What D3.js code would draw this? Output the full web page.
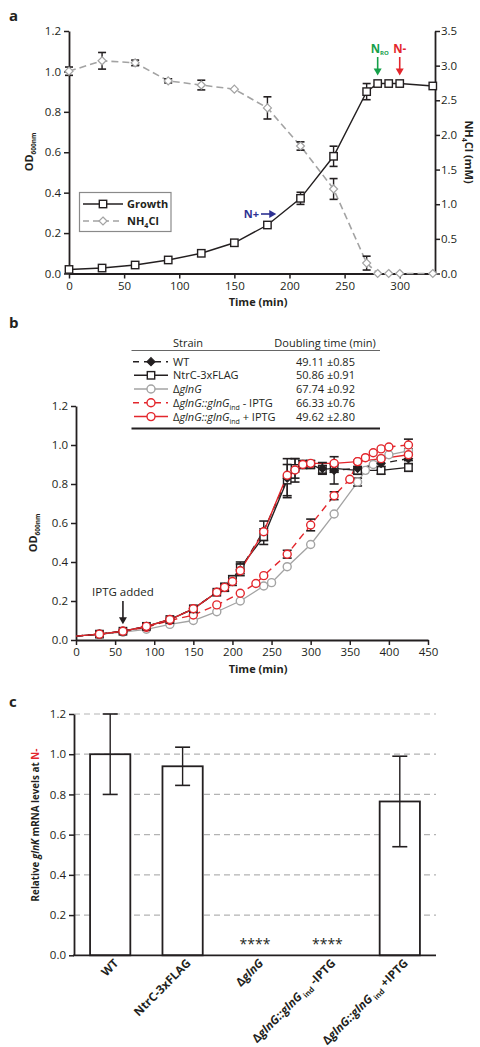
<!DOCTYPE html>
<html><head><meta charset="utf-8">
<script src="https://cdn.jsdelivr.net/npm/d3@7"></script>
<style>body{margin:0;background:#fff} svg{display:block} text{font-family:"Open Sans",sans-serif;fill:#231f20}</style>
</head><body><svg id="c" width="480" height="1047"></svg>
<script>
// ---------- Panel a data ----------
const timeA = [0,30,60,90,120,150,180,210,240,270,280,290,300,330];
const growthOD = [0.02,0.027,0.042,0.067,0.10,0.152,0.24,0.372,0.58,0.90,0.94,0.94,0.94,0.928];
const growthErr = [0,0,0,0,0,0,0,0.03,0.05,0.04,0,0,0,0];
const nh4Conc = [2.92,3.07,3.04,2.78,2.72,2.66,2.39,1.84,1.22,0.15,0,0,0,0];
const nh4Err = [0.06,0.12,0.04,0.03,0.07,0,0.16,0.06,0.15,0.10,0,0,0,0];
const ticksAx = [0,50,100,150,200,250,300];
const ticksAyL = [0,0.2,0.4,0.6,0.8,1.0,1.2];
const ticksAyR = [0,0.5,1.0,1.5,2.0,2.5,3.0,3.5];

// ---------- Panel b data ----------
const timeWT = [0,30,60,90,120,150,180,190,200,210,240,270,280,290,300,315,330,360,390,425];
const odWT   = [0.02,0.03,0.045,0.07,0.105,0.16,0.245,0.27,0.30,0.36,0.56,0.83,0.87,0.90,0.90,0.88,0.87,0.88,0.905,0.93];
const errWT  = [0,0,0,0,0,0,0,0.02,0.02,0.03,0.05,0.10,0.06,0.02,0.02,0.03,0.07,0.03,0.03,0.03];
const odNtrC = [0.02,0.03,0.045,0.07,0.105,0.16,0.245,0.27,0.31,0.37,0.53,0.82,0.88,0.90,0.90,0.875,0.88,0.87,0.87,0.885];
const errNtrC= [0,0,0,0,0,0,0,0.02,0.02,0.03,0.04,0.08,0.05,0.02,0.02,0.02,0.02,0.02,0.02,0.02];
const timePlus = [0,30,60,90,120,150,180,190,200,210,240,270,280,290,300,330,360,390,425];
const odPlus   = [0.02,0.03,0.045,0.07,0.105,0.16,0.245,0.27,0.30,0.355,0.555,0.845,0.872,0.90,0.906,0.906,0.915,0.93,0.95];
const errPlus  = [0,0,0,0,0,0,0,0,0,0,0,0,0,0,0,0,0,0,0.03];
const timeMinus = [0,30,60,90,120,150,180,210,230,240,270,300,330,350,360,370,380,390,400,425];
const odMinus   = [0.02,0.03,0.045,0.065,0.10,0.128,0.18,0.24,0.29,0.33,0.44,0.59,0.74,0.824,0.915,0.935,0.96,0.98,0.99,1.0];
const errMinus  = [0,0,0,0,0,0,0,0,0,0,0.02,0.03,0.02,0,0,0,0,0,0,0.03];
const timeDel = [0,30,60,90,120,150,180,210,240,250,270,300,330,360,370,380,390,400,425];
const odDel   = [0.02,0.03,0.04,0.055,0.08,0.10,0.145,0.20,0.277,0.294,0.376,0.49,0.646,0.81,0.87,0.90,0.93,0.95,0.97];
const errDel  = [0,0,0,0,0,0,0,0,0,0,0,0,0,0.02,0,0,0,0,0];
const strainNames = ["WT","NtrC-3xFLAG","ΔglnG","ΔglnG::glnG_ind - IPTG","ΔglnG::glnG_ind + IPTG"];
const doublingTimes = ["49.11 ±0.85","50.86 ±0.91","67.74 ±0.92","66.33 ±0.76","49.62 ±2.80"];
const ticksBx = [0,50,100,150,200,250,300,350,400,450];
const ticksBy = [0,0.2,0.4,0.6,0.8,1.0,1.2];

// ---------- Panel c data ----------
const strainsC = ["WT","NtrC","dGlnG","minus","plus"];
const glnK = [1.0,0.94,0,0,0.765];
const glnKErr = [0.2,0.095,0,0,0.225];
const glnKSig = ["","","****","****",""];
const ticksCy = [0,0.2,0.4,0.6,0.8,1.0,1.2];

const RED = "#e3262c", GRAY = "#a3a3a3", BLUE = "#2e3192", GREEN = "#16a04a";
const svg = d3.select("#c");
const f1 = d3.format(".1f");

function styleAxis(g){
  g.selectAll("path.domain").attr("stroke","#231f20").attr("stroke-width",1.8);
  g.selectAll(".tick line").attr("stroke","#231f20").attr("stroke-width",1.5);
  g.selectAll(".tick text").style("font-family",'"Open Sans",sans-serif').style("font-size","11.5px").attr("fill","#231f20");
}
function arrowV(g,x,y1,y2,color){
  g.append("line").attr("x1",x).attr("x2",x).attr("y1",y1).attr("y2",y2-5).attr("stroke",color).attr("stroke-width",1.6);
  g.append("path").attr("d",`M${x-4},${y2-7}L${x+4},${y2-7}L${x},${y2}Z`).attr("fill",color);
}
function arrowH(g,x1,x2,y,color){
  g.append("line").attr("x1",x1).attr("x2",x2-5).attr("y1",y).attr("y2",y).attr("stroke",color).attr("stroke-width",1.6);
  g.append("path").attr("d",`M${x2-7},${y-4}L${x2-7},${y+4}L${x2},${y}Z`).attr("fill",color);
}
function errBars(g,xs,ys,es,x,y,cap){
  xs.forEach((t,i)=>{ if(!es[i]) return;
    const cx=x(t), y1=y(ys[i]-es[i]), y2=y(ys[i]+es[i]);
    g.append("line").attr("x1",cx).attr("x2",cx).attr("y1",y1).attr("y2",y2).attr("stroke","#231f20").attr("stroke-width",1.4);
    [y1,y2].forEach(yy=>g.append("line").attr("x1",cx-cap).attr("x2",cx+cap).attr("y1",yy).attr("y2",yy).attr("stroke","#231f20").attr("stroke-width",1.6));
  });
}
function marker(g,type,cx,cy,color,fill){
  if(type==="square") g.append("rect").attr("x",cx-3.7).attr("y",cy-3.7).attr("width",7.4).attr("height",7.4).attr("fill",fill).attr("stroke",color).attr("stroke-width",1.4);
  else if(type==="circle") g.append("circle").attr("cx",cx).attr("cy",cy).attr("r",4).attr("fill",fill).attr("stroke",color).attr("stroke-width",1.4);
  else if(type==="diamond") g.append("path").attr("d",`M${cx},${cy-4}L${cx+4},${cy}L${cx},${cy+4}L${cx-4},${cy}Z`).attr("fill",fill).attr("stroke",color).attr("stroke-width",1.2);
}
function panelLabel(t,x,y){ svg.append("text").attr("x",x).attr("y",y).text(t).style("font-weight","bold").style("font-size","15px"); }

// ================= Panel a =================
const gA = svg.append("g");
const xA = d3.scaleLinear().domain([0,332]).range([69,435]);
const yL = d3.scaleLinear().domain([0,1.2]).range([273.5,31]);
const yR = d3.scaleLinear().domain([0,3.5]).range([273.5,31]);
panelLabel("a",9,21);

gA.append("g").attr("transform","translate(0,273.5)").call(d3.axisBottom(xA).tickValues(ticksAx).tickSize(5).tickSizeOuter(0).tickPadding(3)).call(styleAxis);
gA.append("g").attr("transform","translate(69,0)").call(d3.axisLeft(yL).tickValues(ticksAyL).tickFormat(f1).tickSize(5).tickSizeOuter(0).tickPadding(3)).call(styleAxis);
gA.append("g").attr("transform","translate(435,0)").call(d3.axisRight(yR).tickValues(ticksAyR).tickFormat(f1).tickSize(5).tickSizeOuter(0).tickPadding(1)).call(styleAxis);

// NH4Cl series
const lineNH = d3.line().x((d,i)=>xA(timeA[i])).y(d=>yR(d));
gA.append("path").datum(nh4Conc).attr("d",lineNH).attr("fill","none").attr("stroke",GRAY).attr("stroke-width",1.6).attr("stroke-dasharray","7,4");
errBars(gA,timeA,nh4Conc,nh4Err,xA,yR,4);
nh4Conc.forEach((v,i)=>marker(gA,"diamond",xA(timeA[i]),yR(v),GRAY,"#fff"));
// Growth series
const lineG = d3.line().x((d,i)=>xA(timeA[i])).y(d=>yL(d));
gA.append("path").datum(growthOD).attr("d",lineG).attr("fill","none").attr("stroke","#231f20").attr("stroke-width",1.4);
errBars(gA,timeA,growthOD,growthErr,xA,yL,4);
growthOD.forEach((v,i)=>marker(gA,"square",xA(timeA[i]),yL(v),"#231f20","#fff"));

// axis titles
const odA = gA.append("text").attr("transform","translate(33,152) rotate(-90)").attr("text-anchor","middle").style("font-weight","bold").style("font-size","11px");
odA.append("tspan").text("OD");
odA.append("tspan").text("600nm").attr("dy",3).style("font-size","6.5px");
gA.append("text").attr("x",258).attr("y",306).attr("text-anchor","middle").style("font-weight","bold").style("font-size","11px").text("Time (min)");
const nhA = gA.append("text").attr("transform","translate(465,152) rotate(90)").attr("text-anchor","middle").style("font-weight","bold").style("font-size","11px");
nhA.append("tspan").text("NH");
nhA.append("tspan").text("4").attr("dy",3).style("font-size","7px");
nhA.append("tspan").text("Cl (mM)").attr("dy",-3);

// legend
gA.append("rect").attr("x",79.5).attr("y",192.5).attr("width",91.5).attr("height",39).attr("fill","#fff").attr("stroke","#8a8a8a").attr("stroke-width",1.2);
gA.append("line").attr("x1",83).attr("x2",123).attr("y1",204).attr("y2",204).attr("stroke","#231f20").attr("stroke-width",1.4);
marker(gA,"square",103,204,"#231f20","#fff");
gA.append("text").attr("x",127).attr("y",208).style("font-weight","bold").style("font-size","11px").text("Growth");
gA.append("line").attr("x1",83).attr("x2",123).attr("y1",221).attr("y2",221).attr("stroke",GRAY).attr("stroke-width",1.5).attr("stroke-dasharray","6,4");
marker(gA,"diamond",103,221,GRAY,"#fff");
const lgNH = gA.append("text").attr("x",127).attr("y",225).style("font-weight","bold").style("font-size","11px");
lgNH.append("tspan").text("NH"); lgNH.append("tspan").text("4").attr("dy",3).style("font-size","7px"); lgNH.append("tspan").text("Cl").attr("dy",-3);

// annotations
gA.append("text").attr("x",259).attr("y",218).attr("text-anchor","end").style("font-weight","bold").style("font-size","11px").style("fill",BLUE).text("N+");
arrowH(gA,261,xA(188),214,BLUE);
const nro = gA.append("text").attr("x",xA(280)-7).attr("y",53).style("font-weight","bold").style("font-size","11.5px").style("fill",GREEN);
nro.append("tspan").text("N"); nro.append("tspan").text("RO").attr("dy",2).style("font-size","6px");
arrowV(gA,xA(280),57,yL(0.94)-8,GREEN);
gA.append("text").attr("x",xA(300)).attr("y",53).attr("text-anchor","middle").style("font-weight","bold").style("font-size","11.5px").style("fill",RED).text("N-");
arrowV(gA,xA(300),57,yL(0.94)-8,RED);

// ================= Panel b =================
const gB = svg.append("g");
panelLabel("b",9,328);
const xB = d3.scaleLinear().domain([0,450]).range([76,428]);
const yB = d3.scaleLinear().domain([0,1.2]).range([640,406]);
gB.append("g").attr("transform","translate(0,640)").call(d3.axisBottom(xB).tickValues(ticksBx).tickSize(5).tickSizeOuter(0).tickPadding(3)).call(styleAxis);
gB.append("g").attr("transform","translate(76,0)").call(d3.axisLeft(yB).tickValues(ticksBy).tickFormat(f1).tickSize(5).tickSizeOuter(0).tickPadding(3)).call(styleAxis);
const odB = gB.append("text").attr("transform","translate(37,533) rotate(-90)").attr("text-anchor","middle").style("font-weight","bold").style("font-size","11px");
odB.append("tspan").text("OD"); odB.append("tspan").text("600nm").attr("dy",3).style("font-size","6.5px");
gB.append("text").attr("x",258).attr("y",673).attr("text-anchor","middle").style("font-weight","bold").style("font-size","11px").text("Time (min)");

const seriesB = [
  {t:timeDel, v:odDel, e:errDel, color:GRAY, dash:null, mk:"circle", fill:"#fff", w:1.3},
  {t:timeMinus, v:odMinus, e:errMinus, color:RED, dash:"7,5", mk:"circle", fill:"#fff", w:1.4},
  {t:timeWT, v:odNtrC, e:errNtrC, color:"#231f20", dash:null, mk:"square", fill:"#fff", w:1.4},
  {t:timeWT, v:odWT, e:errWT, color:"#231f20", dash:"7,5", mk:"diamond", fill:"#231f20", w:1.4},
  {t:timePlus, v:odPlus, e:errPlus, color:RED, dash:null, mk:"circle", fill:"#fff", w:1.4}
];
seriesB.forEach(s=>{
  const ln = d3.line().x((d,i)=>xB(s.t[i])).y(d=>yB(d));
  const p = gB.append("path").datum(s.v).attr("d",ln).attr("fill","none").attr("stroke",s.color).attr("stroke-width",s.w);
  if(s.dash) p.attr("stroke-dasharray",s.dash);
});
seriesB.forEach(s=>errBars(gB,s.t,s.v,s.e,xB,yB,4.5));
seriesB.forEach(s=>{ s.v.forEach((v,i)=>{ if(s.t[i]===0) return; marker(gB,s.mk,xB(s.t[i]),yB(v),s.color,s.fill); }); });

// IPTG added
gB.append("text").attr("x",xB(60)).attr("y",596).attr("text-anchor","middle").style("font-size","11.5px").text("IPTG added");
arrowV(gB,xB(60),601,yB(0.045)-7,"#231f20");

// legend table
const legB = gB.append("g");
legB.append("text").attr("x",188).attr("y",346.5).attr("text-anchor","middle").style("font-size","11px").text("Strain");
legB.append("text").attr("x",325).attr("y",346.5).attr("text-anchor","middle").style("font-size","11px").text("Doubling time (min)");
legB.append("line").attr("x1",131.5).attr("x2",380).attr("y1",350.5).attr("y2",350.5).attr("stroke","#555").attr("stroke-width",0.9);
legB.append("line").attr("x1",131.5).attr("x2",380).attr("y1",428.5).attr("y2",428.5).attr("stroke","#231f20").attr("stroke-width",1.8);
const legOrder = [3,2,0,1,4];
const rowY = [361.7,375.3,389,402.8,416.6];
legOrder.forEach((si,r)=>{
  const s = seriesB[si], y = rowY[r];
  const l = legB.append("line").attr("x1",134).attr("x2",168).attr("y1",y).attr("y2",y).attr("stroke",s.color).attr("stroke-width",1.5);
  if(s.dash) l.attr("stroke-dasharray","6,5").attr("x1",133);
  marker(legB,s.mk,151,y,s.color,s.fill);
  const tx = legB.append("text").attr("x",173).attr("y",y+4).style("font-size","11px");
  const name = strainNames[r];
  if(name.startsWith("Δ")){
    const parts = name.split("_ind");
    const main = parts[0];
    tx.append("tspan").text("Δ");
    if(main.includes("::")){
      tx.append("tspan").text("glnG::glnG").style("font-style","italic");
      tx.append("tspan").text("ind").attr("dy",3).style("font-size","7px");
      tx.append("tspan").text(parts[1]).attr("dy",-3);
    } else {
      tx.append("tspan").text("glnG").style("font-style","italic");
    }
  } else tx.text(name);
  legB.append("text").attr("x",296).attr("y",y+4).style("font-size","11px").text(doublingTimes[r]);
});

// ================= Panel c =================
const gC = svg.append("g");
panelLabel("c",9,707);
const xC = d3.scaleBand().domain(strainsC).range([74,436]).paddingInner(0.444).paddingOuter(0.222);
const yC = d3.scaleLinear().domain([0,1.2]).range([955.3,714]);
ticksCy.filter(v=>v>0).forEach(v=>{
  gC.append("line").attr("x1",74).attr("x2",436).attr("y1",yC(v)).attr("y2",yC(v)).attr("stroke","#b3b3b3").attr("stroke-width",1.2).attr("stroke-dasharray","6,4");
});
strainsC.forEach((k,i)=>{
  if(glnK[i]>0){
    gC.append("rect").attr("x",xC(k)).attr("y",yC(glnK[i])).attr("width",xC.bandwidth()).attr("height",yC(0)-yC(glnK[i])).attr("fill","#fff").attr("stroke","#231f20").attr("stroke-width",1.8);
  }
  if(glnKSig[i]) gC.append("text").attr("x",xC(k)+xC.bandwidth()/2).attr("y",949).attr("text-anchor","middle").style("font-size","14px").text(glnKSig[i]);
});
errBars(gC,strainsC,glnK,glnKErr,k=>xC(k)+xC.bandwidth()/2,yC,7.5);
gC.append("g").attr("transform","translate(74,0)").call(d3.axisLeft(yC).tickValues(ticksCy).tickFormat(f1).tickSize(5).tickSizeOuter(0).tickPadding(3)).call(styleAxis);
gC.append("line").attr("x1",73).attr("x2",436).attr("y1",955.3).attr("y2",955.3).attr("stroke","#231f20").attr("stroke-width",1.8);

const yLabC = gC.append("text").attr("transform","translate(39,825) rotate(-90)").attr("text-anchor","middle").style("font-weight","bold").style("font-size","9.8px");
yLabC.append("tspan").text("Relative ");
yLabC.append("tspan").text("glnK").style("font-style","italic");
yLabC.append("tspan").text(" mRNA levels at ");
yLabC.append("tspan").text("N-").style("fill",RED);

const xlabC = [
  [{t:"WT"}],
  [{t:"NtrC-3xFLAG"}],
  [{t:"Δ"},{t:"glnG",i:1}],
  [{t:"Δ"},{t:"glnG::glnG",i:1},{t:" ind",s:1},{t:" -IPTG"}],
  [{t:"Δ"},{t:"glnG::glnG",i:1},{t:" ind",s:1},{t:" +IPTG"}]
];
strainsC.forEach((k,i)=>{
  const cx = xC(k)+xC.bandwidth()/2;
  const tx = gC.append("text").attr("transform",`translate(${cx+9},${964}) rotate(-45)`).attr("text-anchor","end").style("font-weight","bold").style("font-size","11.8px");
  let sub=false;
  xlabC[i].forEach(p=>{
    const ts = tx.append("tspan").text(p.t);
    if(p.i) ts.style("font-style","italic");
    if(p.s){ ts.attr("dy",3).style("font-size","7.5px"); sub=true; }
    else if(sub){ ts.attr("dy",-3); sub=false; }
  });
});
</script></body></html>
